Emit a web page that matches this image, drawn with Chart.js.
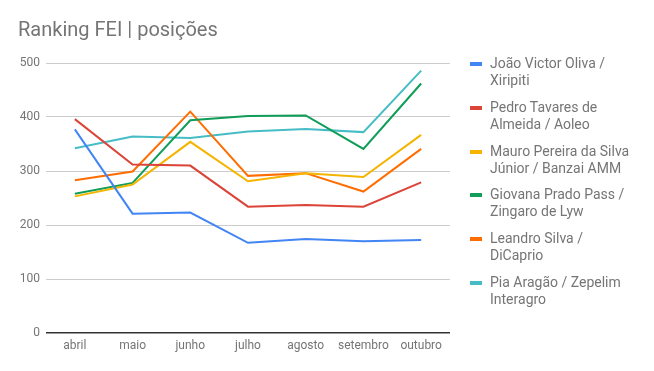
<!DOCTYPE html>
<html>
<head>
<meta charset="utf-8">
<script src="https://cdn.jsdelivr.net/npm/chart.js@4"></script>
<style>
  body { margin: 0; background: #fff; font-family: Roboto, sans-serif; }
  #wrap { position: relative; width: 654px; height: 371px; }
  canvas { display: block; }
  #title { position: absolute; left: 18px; top: 17px; font-size: 20px; color: #757575; }
  #legend { position: absolute; left: 470px; top: 55px; font-size: 14px; color: #757575; }
  .item { position: relative; height: 43.8px; padding-left: 20px; line-height: 17px; }
  .sw { position: absolute; left: 0; top: 7px; width: 12px; height: 4px; }
</style>
</head>
<body>
<div id="wrap">
  <canvas id="chart" width="654" height="371"></canvas>
  <div id="title">Ranking FEI | posições</div>
  <div id="legend"></div>
</div>
<script>
const months = ['abril', 'maio', 'junho', 'julho', 'agosto', 'setembro', 'outubro'];
const names = [
    ['João Victor Oliva /', 'Xiripiti'],
    ['Pedro Tavares de', 'Almeida / Aoleo'],
    ['Mauro Pereira da Silva', 'Júnior / Banzai AMM'],
    ['Giovana Prado Pass /', 'Zingaro de Lyw'],
    ['Leandro Silva /', 'DiCaprio'],
    ['Pia Aragão / Zepelim', 'Interagro']
];
const joao = [377, 221, 223, 167, 174, 170, 172];
const pedro = [396, 312, 310, 234, 237, 234, 279];
const mauro = [253, 275, 354, 281, 296, 289, 367];
const giovana = [258, 278, 394, 402, 403, 341, 462];
const leandro = [283, 299, 410, 291, 296, 262, 341];
const pia = [342, 364, 361, 373, 378, 372, 486];
const yTicks = [0, 100, 200, 300, 400, 500];
const colors = ['#4285f4', '#db4437', '#f4b400', '#0f9d58', '#ff6d01', '#46bdc6'];

const series = [joao, pedro, mauro, giovana, leandro, pia];

const legend = document.getElementById('legend');
names.forEach((n, i) => {
    const item = document.createElement('div');
    item.className = 'item';
    item.innerHTML = `<span class="sw" style="background:${colors[i]}"></span>${n[0]}<br>${n[1]}`;
    legend.appendChild(item);
});

new Chart(document.getElementById('chart'), {
    type: 'line',
    data: {
        labels: months,
        datasets: series.map((d, i) => ({
            label: names[i].join(' '),
            data: d,
            borderColor: colors[i],
            backgroundColor: colors[i],
            borderWidth: 2,
            pointRadius: 0,
            tension: 0
        }))
    },
    options: {
        responsive: false,
        animation: false,
        layout: { padding: { top: 63, right: 204, left: 0, bottom: 0 } },
        plugins: { legend: { display: false }, tooltip: { enabled: false } },
        scales: {
            x: {
                offset: true,
                grid: { display: false, drawTicks: false },
                border: { display: false },
                ticks: { color: '#757575', font: { family: 'Roboto', size: 12 }, padding: 6, maxRotation: 0 },
                afterFit: s => { s.height = 38; }
            },
            y: {
                min: 0,
                max: 500,
                afterBuildTicks: s => { s.ticks = yTicks.map(v => ({ value: v })); },
                grid: {
                    color: c => c.tick.value === 0 ? '#333333' : '#cccccc',
                    lineWidth: c => c.tick.value === 0 ? 1.5 : 1,
                    drawTicks: false
                },
                border: { display: false },
                ticks: { color: '#757575', font: { family: 'Roboto', size: 12 }, padding: 6 },
                afterFit: s => { s.width = 46; }
            }
        }
    }
});
</script>
</body>
</html>
